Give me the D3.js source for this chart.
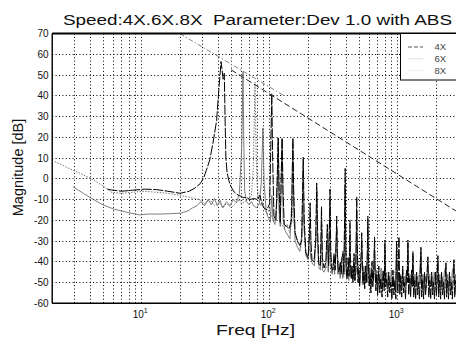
<!DOCTYPE html>
<html><head><meta charset="utf-8">
<script src="https://cdn.jsdelivr.net/npm/d3@7"></script>
<style>body{margin:0;background:#fff} svg{display:block}</style>
</head><body>
<svg id="c" width="456" height="339"></svg>
<script>
// ---------- data ----------
const titleText = "Speed:4X.6X.8X  Parameter:Dev 1.0 with ABS";
const xLabelText = "Freq [Hz]";
const yLabelText = "Magnitude [dB]";
const seriesNames = ["4X", "6X", "8X"];
const xDomain = [2, 3000];
const yDomain = [-60, 70];
const yTickValues = [70, 60, 50, 40, 30, 20, 10, 0, -10, -20, -30, -40, -50, -60];
const xLabelDecades = [10, 100, 1000];

const series4X = [[5.4,-5],[5.8,-5.4],[7,-6],[8.5,-5.5],[10.5,-5],[13,-5.2],[16,-6],[20,-7],[23.5,-6],[26,-4.5],[28.6,-2.4],[30.3,0],[32,4],[34,9],[36,17],[38.5,28],[40.2,44],[41.7,56.5],[42.6,52],[43.3,48],[44.2,50.8],[44.8,30],[45.5,10],[46.5,3],[48,-1],[50,-4],[53,-6.5],[57,-8],[60,-8.5],[62,-9],[66,-9],[70,-10],[75,-9.5],[80,-10],[84,-8],[87,-12],[90,-14],[95,-15],[100,-12],[102,15],[103.9,41],[105.5,10],[108,-18],[112,-20],[114.5,0],[116.6,19.7],[118.5,-5],[121,-21],[123.5,5],[125,19.7],[127,-5],[130,-22],[136,-23],[142,-24],[148,-20],[150.5,5],[152,19.7],[154,-5],[158,-26],[165,-30],[172,-32],[178,-30],[181,-5],[183,10.5],[186,-20],[192,-36],[200,-38],[205,-25],[207,-11.6],[210,-30],[214,-39],[222,-40],[229,-30],[233,-2],[237,-25],[242,-41],[249,-42],[254,-13.5],[258,-38],[266,-43],[275,-40],[282,-22],[289,-42],[293,-25],[296,-5],[300,-35],[306,-43],[312,-44],[318,-36],[325,-44],[330,-32],[334,-18],[338,-38],[344,-45],[350,-44],[356,-40],[362,-46],[368,-38],[374,-35],[380,-46],[385,-20],[389,5],[393,-30],[398,-46],[404,-48],[410,-38],[417,-47],[421,-35],[424,-20],[428,-40],[434,-48],[440,-42],[448,-50],[456,-36],[463,-49],[471,-45],[475,-25],[479,-8.7],[483,-30],[490,-50],[497,-44],[505,-52],[514,-40],[520,-35],[524,-26],[529,-40],[536,-51],[545,-45],[553,-53],[563,-42],[572,-50],[579,-35],[585,-18],[591,-40],[599,-52],[608,-46],[618,-55],[630,-40],[640,-52],[650,-45],[660,-28],[667,-45],[676,-54],[686,-46],[698,-56],[712,-42],[726,-55],[740,-48],[755,-57],[770,-44],[785,-54],[795,-29.5],[806,-52],[820,-48],[836,-57],[852,-45],[868,-55],[885,-50],[902,-58],[918,-44],[935,-56],[952,-49],[968,-58],[980,-30],[992,-50],[1005,-55],[1023,-28],[1040,-56],[1058,-47],[1076,-57],[1095,-42],[1114,-55],[1133,-50],[1152,-58],[1172,-44],[1190,-50],[1202,-29.5],[1218,-56],[1240,-48],[1262,-57],[1284,-44],[1300,-52],[1316,-35],[1335,-57],[1358,-49],[1382,-58],[1406,-45],[1430,-56],[1455,-50],[1480,-58],[1505,-44],[1520,-33],[1540,-57],[1567,-49],[1594,-58],[1622,-45],[1650,-56],[1680,-50],[1700,-44],[1723,-37.6],[1750,-57],[1780,-49],[1811,-58],[1843,-45],[1875,-56],[1908,-50],[1941,-58],[1975,-45],[2010,-56],[2040,-48],[2063,-37],[2090,-57],[2127,-49],[2164,-58],[2202,-45],[2240,-56],[2280,-50],[2320,-58],[2360,-46],[2384,-40.5],[2410,-57],[2452,-49],[2495,-58],[2539,-45],[2583,-56],[2628,-50],[2674,-58],[2720,-46],[2754,-39],[2790,-57],[2839,-49],[2888,-58],[2938,-46],[2990,-56]];

const series6X = [[2.9,-3.8],[3.5,-7],[4.2,-10],[5,-12.6],[6,-14.5],[7.5,-16],[9.6,-17.4],[11.3,-17],[14,-17],[17,-16.8],[20,-16.6],[23,-15.5],[25,-14],[27,-13],[29,-11],[31,-13],[33,-10],[35,-12.5],[37,-9.5],[39,-13],[41,-10.5],[43,-14],[46,-11],[49,-13],[52,-10],[55,-11.5],[58,-7],[60.5,15],[61.9,51.5],[62.8,18],[63.8,-6],[66,-11],[69,-12.5],[72,-11],[75,-13],[79,-14],[83,-12],[86,-2],[88.5,24.5],[90.5,-2],[94,-16],[98,-19],[101,-21],[104,-8],[106,-20],[110,-22],[114,-10],[116.6,19.5],[118.5,-15],[121,-23],[124,10],[125.5,19],[127.5,-20],[132,-25],[138,-27],[144,-29],[149,-12],[151.5,17],[154,-14],[158,-30],[165,-33],[172,-35],[178,-28],[182.5,6],[186,-24],[192,-37],[199,-39],[205,-25],[209,-38],[216,-41],[224,-42],[231,-20],[234,-6],[237,-30],[243,-43],[250,-44],[255,-22],[259,-44],[266,-45],[274,-43],[281,-30],[287,-45],[295,-12],[300,-42],[308,-46],[315,-40],[322,-46],[330,-30],[336,-24],[341,-46],[348,-43],[356,-48],[364,-38],[372,-48],[380,-44],[388,-3],[392,-40],[399,-48],[407,-44],[415,-49],[423,-27],[429,-47],[437,-43],[446,-49],[455,-41],[464,-49],[472,-44],[479,-15],[486,-46],[495,-42],[505,-50],[515,-44],[525,-30],[534,-49],[545,-42],[556,-50],[567,-45],[578,-50],[586,-22],[594,-48],[606,-43],[618,-51],[631,-45],[644,-50],[658,-33],[670,-49],[684,-44],[698,-52],[712,-46],[727,-51],[742,-43],[757,-51],[772,-46],[788,-52],[796,-33],[806,-49],[822,-45],[839,-52],[856,-47],[874,-51],[892,-44],[910,-52],[929,-47],[948,-52],[968,-45],[982,-32],[994,-50],[1010,-45],[1030,-52],[1050,-46],[1072,-51],[1094,-44],[1116,-52],[1140,-47],[1163,-52],[1187,-43],[1205,-31],[1222,-50],[1247,-46],[1272,-52],[1298,-47],[1318,-37],[1338,-51],[1365,-46],[1393,-52],[1421,-47],[1450,-52],[1480,-45],[1521,-35],[1545,-51],[1576,-46],[1608,-52],[1641,-47],[1675,-52],[1709,-44],[1725,-40],[1744,-51],[1780,-46],[1816,-52],[1853,-47],[1891,-52],[1930,-45],[1970,-51],[2010,-46],[2063,-39],[2090,-51],[2133,-46],[2177,-52],[2222,-47],[2268,-52],[2314,-45],[2384,-42],[2410,-51],[2460,-46],[2510,-52],[2561,-47],[2614,-52],[2668,-45],[2754,-41],[2780,-51],[2837,-46],[2895,-52],[2955,-47],[3000,-50]];

const series8X = [[2.1,8.3],[2.6,5.5],[3.2,3],[4.2,-0.5],[5,-3.5],[5.8,-6.5],[7,-7],[8.5,-6.5],[10.5,-6],[13,-6.5],[16,-7],[20,-8],[24,-9],[28,-10],[31,-12],[34,-10],[37,-13],[40,-11],[43,-14],[46,-12],[50,-14],[54,-12],[58,-10],[60,-12],[64,-11],[68,-10],[72,-8],[74.5,5],[76.8,46.6],[78.5,10],[80,-4],[82,-10],[85,-13],[88,-11],[92,-15],[96,-17],[100,-14],[103,-18],[108,-20],[113,-16],[116.6,12],[119,-20],[124,-22],[130,-24],[137,-22],[143,-26],[150,-20],[152.5,8],[155,-22],[160,-28],[167,-31],[175,-33],[183,-15],[190,-35],[198,-37],[206,-34],[214,-39],[222,-40],[233,-25],[240,-41],[250,-42],[262,-43],[275,-42],[288,-44],[297,-28],[305,-45],[320,-44],[335,-33],[350,-46],[365,-44],[380,-47],[390,-20],[400,-47],[420,-45],[440,-48],[460,-46],[480,-30],[500,-48],[525,-40],[550,-49],[585,-35],[620,-50],[660,-42],[700,-51],[750,-48],[800,-45],[850,-52],[900,-49],[980,-42],[1050,-52],[1120,-48],[1200,-44],[1300,-52],[1400,-49],[1520,-45],[1650,-53],[1800,-50],[1950,-54],[2100,-48],[2300,-54],[2500,-50],[2750,-53],[3000,-51]];

const envelopeUpper = [[19.8,70],[130,40]];
const envelopeLower = [[50,52.5],[2850,-15.5]];

// ---------- styles / layout ----------
const seriesData = {"4X": series4X, "6X": series6X, "8X": series8X};
const seriesStyle = {
  "4X": {stroke: "#000", width: 1, dash: "10,1.5"},
  "6X": {stroke: "#666", width: 0.85, dash: null},
  "8X": {stroke: "#555", width: 0.8, dash: "1.5,1.4"}
};
const legendStyle = {
  "4X": {stroke: "#444", width: 0.9, dash: "4,2"},
  "6X": {stroke: "#d8d8d8", width: 0.8, dash: null},
  "8X": {stroke: "#e0e0e0", width: 0.8, dash: "1.5,1.2"}
};
const font = "'Liberation Sans', Arial, Helvetica, sans-serif";
const plot = {left: 52.2, top: 33.5, bottom: 303.3, decadePx: 128};

const svg = d3.select("#c");
const x = d3.scaleLog().domain(xDomain)
  .range([plot.left, plot.left + plot.decadePx * Math.log10(xDomain[1] / xDomain[0])]);
const y = d3.scaleLinear().domain(yDomain).range([plot.bottom, plot.top]);
const plotRight = x.range()[1];
const crisp = v => Math.round(v - 0.5) + 0.5;

svg.append("rect").attr("width", 456).attr("height", 339).attr("fill", "#fff");

svg.append("defs").append("clipPath").attr("id", "clip")
  .append("rect").attr("x", plot.left).attr("y", plot.top)
  .attr("width", plotRight - plot.left).attr("height", plot.bottom - plot.top);

// grid
const gridG = svg.append("g").attr("stroke", "#000").attr("stroke-width", 1)
  .attr("stroke-dasharray", "1,2.4");
gridG.selectAll("line.v").data(x.ticks()).join("line")
  .attr("x1", d => crisp(x(d))).attr("x2", d => crisp(x(d)))
  .attr("y1", plot.top).attr("y2", plot.bottom);
gridG.selectAll("line.h").data(yTickValues).join("line")
  .attr("x1", plot.left).attr("x2", plotRight)
  .attr("y1", d => crisp(y(d))).attr("y2", d => crisp(y(d)));

// lines
const line = d3.line().x(d => x(d[0])).y(d => y(d[1]));
const dataG = svg.append("g").attr("clip-path", "url(#clip)").attr("fill", "none");
dataG.append("path").datum(envelopeUpper).attr("d", line)
  .attr("stroke", "#777").attr("stroke-width", 0.9).attr("stroke-dasharray", "5,2,1.5,2");
["6X", "8X", "4X"].forEach(k => {
  const s = seriesStyle[k];
  dataG.append("path").datum(seriesData[k]).attr("d", line)
    .attr("stroke", s.stroke).attr("stroke-width", s.width)
    .attr("stroke-dasharray", s.dash).attr("stroke-linejoin", "round");
});
dataG.append("path").datum(envelopeLower).attr("d", line)
  .attr("stroke", "#222").attr("stroke-width", 1).attr("stroke-dasharray", "6,3");

// axes frame
svg.append("line").attr("x1", plot.left).attr("x2", plot.left)
  .attr("y1", plot.top).attr("y2", plot.bottom).attr("stroke", "#000").attr("stroke-width", 1.4);
svg.append("line").attr("x1", plot.left).attr("x2", plotRight)
  .attr("y1", plot.bottom).attr("y2", plot.bottom).attr("stroke", "#000").attr("stroke-width", 1.4);
svg.append("line").attr("x1", plot.left).attr("x2", plotRight)
  .attr("y1", plot.top).attr("y2", plot.top).attr("stroke", "#000").attr("stroke-width", 2);

// y tick labels
svg.append("g").selectAll("text").data(yTickValues).join("text")
  .attr("x", 48.5).attr("y", d => y(d)).attr("dy", "0.35em")
  .attr("text-anchor", "end").attr("font-family", font).attr("font-size", 10)
  .attr("fill", "#111").text(d => String(d));

// x tick labels 10^n
const xl = svg.append("g").attr("font-family", font).attr("fill", "#111");
xLabelDecades.forEach(v => {
  const t = xl.append("text").attr("x", x(v) - 9).attr("y", 318).attr("font-size", 10);
  t.append("tspan").text("10");
  t.append("tspan").attr("dy", -5).attr("font-size", 7).text(String(Math.round(Math.log10(v))));
});

// titles
svg.append("text").attr("x", 257.5).attr("y", 25).attr("text-anchor", "middle")
  .attr("font-family", font).attr("font-size", 14).attr("fill", "#111")
  .style("white-space", "pre")
  .attr("textLength", 389).attr("lengthAdjust", "spacingAndGlyphs").text(titleText);
svg.append("text").attr("x", 255.5).attr("y", 334.5).attr("text-anchor", "middle")
  .attr("font-family", font).attr("font-size", 14).attr("fill", "#111")
  .attr("textLength", 79).attr("lengthAdjust", "spacingAndGlyphs").text(xLabelText);
svg.append("text").attr("transform", "translate(23,167.5) rotate(-90)")
  .attr("text-anchor", "middle").attr("font-family", font).attr("font-size", 14.5)
  .attr("fill", "#111").text(yLabelText);

// legend
const lg = svg.append("g");
lg.append("rect").attr("x", 400.5).attr("y", plot.top).attr("width", 70).attr("height", 46.5)
  .attr("fill", "#fff").attr("stroke", "#000").attr("stroke-width", 1);
seriesNames.forEach((name, i) => {
  const cy = 47 + i * 11.8;
  const s = legendStyle[name];
  lg.append("line").attr("x1", 408).attr("x2", 423).attr("y1", cy).attr("y2", cy)
    .attr("stroke", s.stroke).attr("stroke-width", s.width).attr("stroke-dasharray", s.dash);
  lg.append("text").attr("x", 434.5).attr("y", cy + 3.3).attr("font-family", font)
    .attr("font-size", 9.5).attr("fill", "#444").text(name);
});
</script>
</body></html>
